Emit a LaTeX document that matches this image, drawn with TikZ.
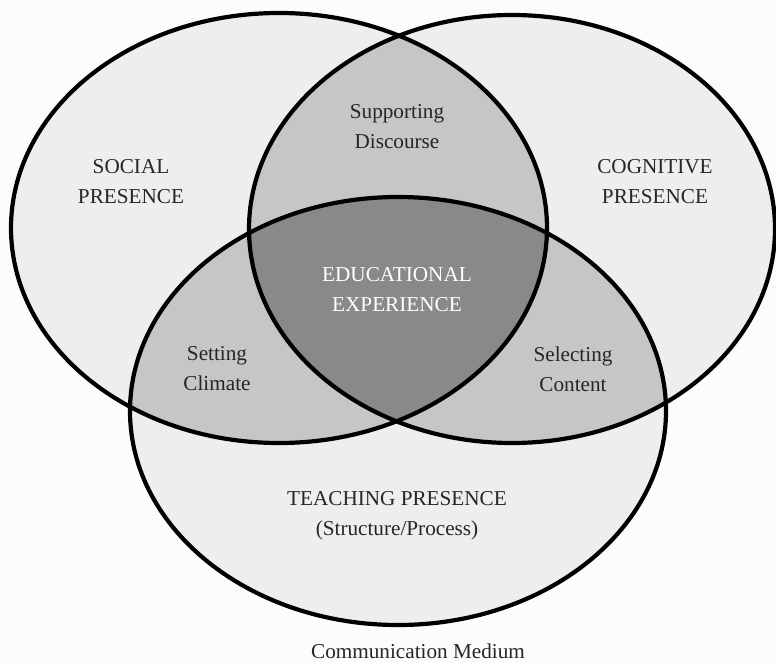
\documentclass[tikz,border=0pt]{standalone}
\usepackage{fontspec}
\setmainfont{Liberation Serif}
\definecolor{bgc}{HTML}{FCFCFC}
\definecolor{onec}{HTML}{EEEEEE}
\definecolor{twoc}{HTML}{C6C6C6}
\definecolor{threec}{HTML}{898989}
\definecolor{txtc}{HTML}{262626}
\begin{document}
\begin{tikzpicture}[x=1pt,y=-1pt,
  lbl/.style={align=center,text=txtc,font=\fontsize{21.2}{30}\selectfont,inner sep=0pt},
  rim/.style={line width=4.2pt,draw=black}]
\useasboundingbox (0,0) rectangle (776,663);
\fill[bgc] (0,0) rectangle (776,663);
% single fills
\fill[onec] (279,228) ellipse [x radius=268, y radius=215];
\fill[onec] (512,229) ellipse [x radius=263, y radius=214];
\fill[onec] (398,411) ellipse [x radius=268, y radius=214];
% pairwise
\begin{scope}
  \clip (279,228) ellipse [x radius=268, y radius=215];
  \fill[twoc] (512,229) ellipse [x radius=263, y radius=214];
  \fill[twoc] (398,411) ellipse [x radius=268, y radius=214];
\end{scope}
\begin{scope}
  \clip (512,229) ellipse [x radius=263, y radius=214];
  \fill[twoc] (398,411) ellipse [x radius=268, y radius=214];
\end{scope}
% triple
\begin{scope}
  \clip (279,228) ellipse [x radius=268, y radius=215];
  \clip (512,229) ellipse [x radius=263, y radius=214];
  \fill[threec] (398,411) ellipse [x radius=268, y radius=214];
\end{scope}
% outlines
\draw[rim] (279,228) ellipse [x radius=268, y radius=215];
\draw[rim] (512,229) ellipse [x radius=263, y radius=214];
\draw[rim] (398,411) ellipse [x radius=268, y radius=214];
% labels
\node[lbl] (social) at (131,182) {SOCIAL\\PRESENCE};
\node[lbl] (cognitive) at (655,182) {COGNITIVE\\PRESENCE};
\node[lbl] (supporting) at (397,127) {Supporting\\Discourse};
\node[lbl,text=white] (educational) at (397,290) {EDUCATIONAL\\EXPERIENCE};
\node[lbl] (setting) at (217,369) {Setting\\Climate};
\node[lbl] (selecting) at (573,369) {Selecting\\Content};
\node[lbl] (teaching) at (397,516) {TEACHING PRESENCE\\(Structure/Process)};
\node[lbl] (medium) at (418,651) {Communication Medium};
\end{tikzpicture}
\end{document}
